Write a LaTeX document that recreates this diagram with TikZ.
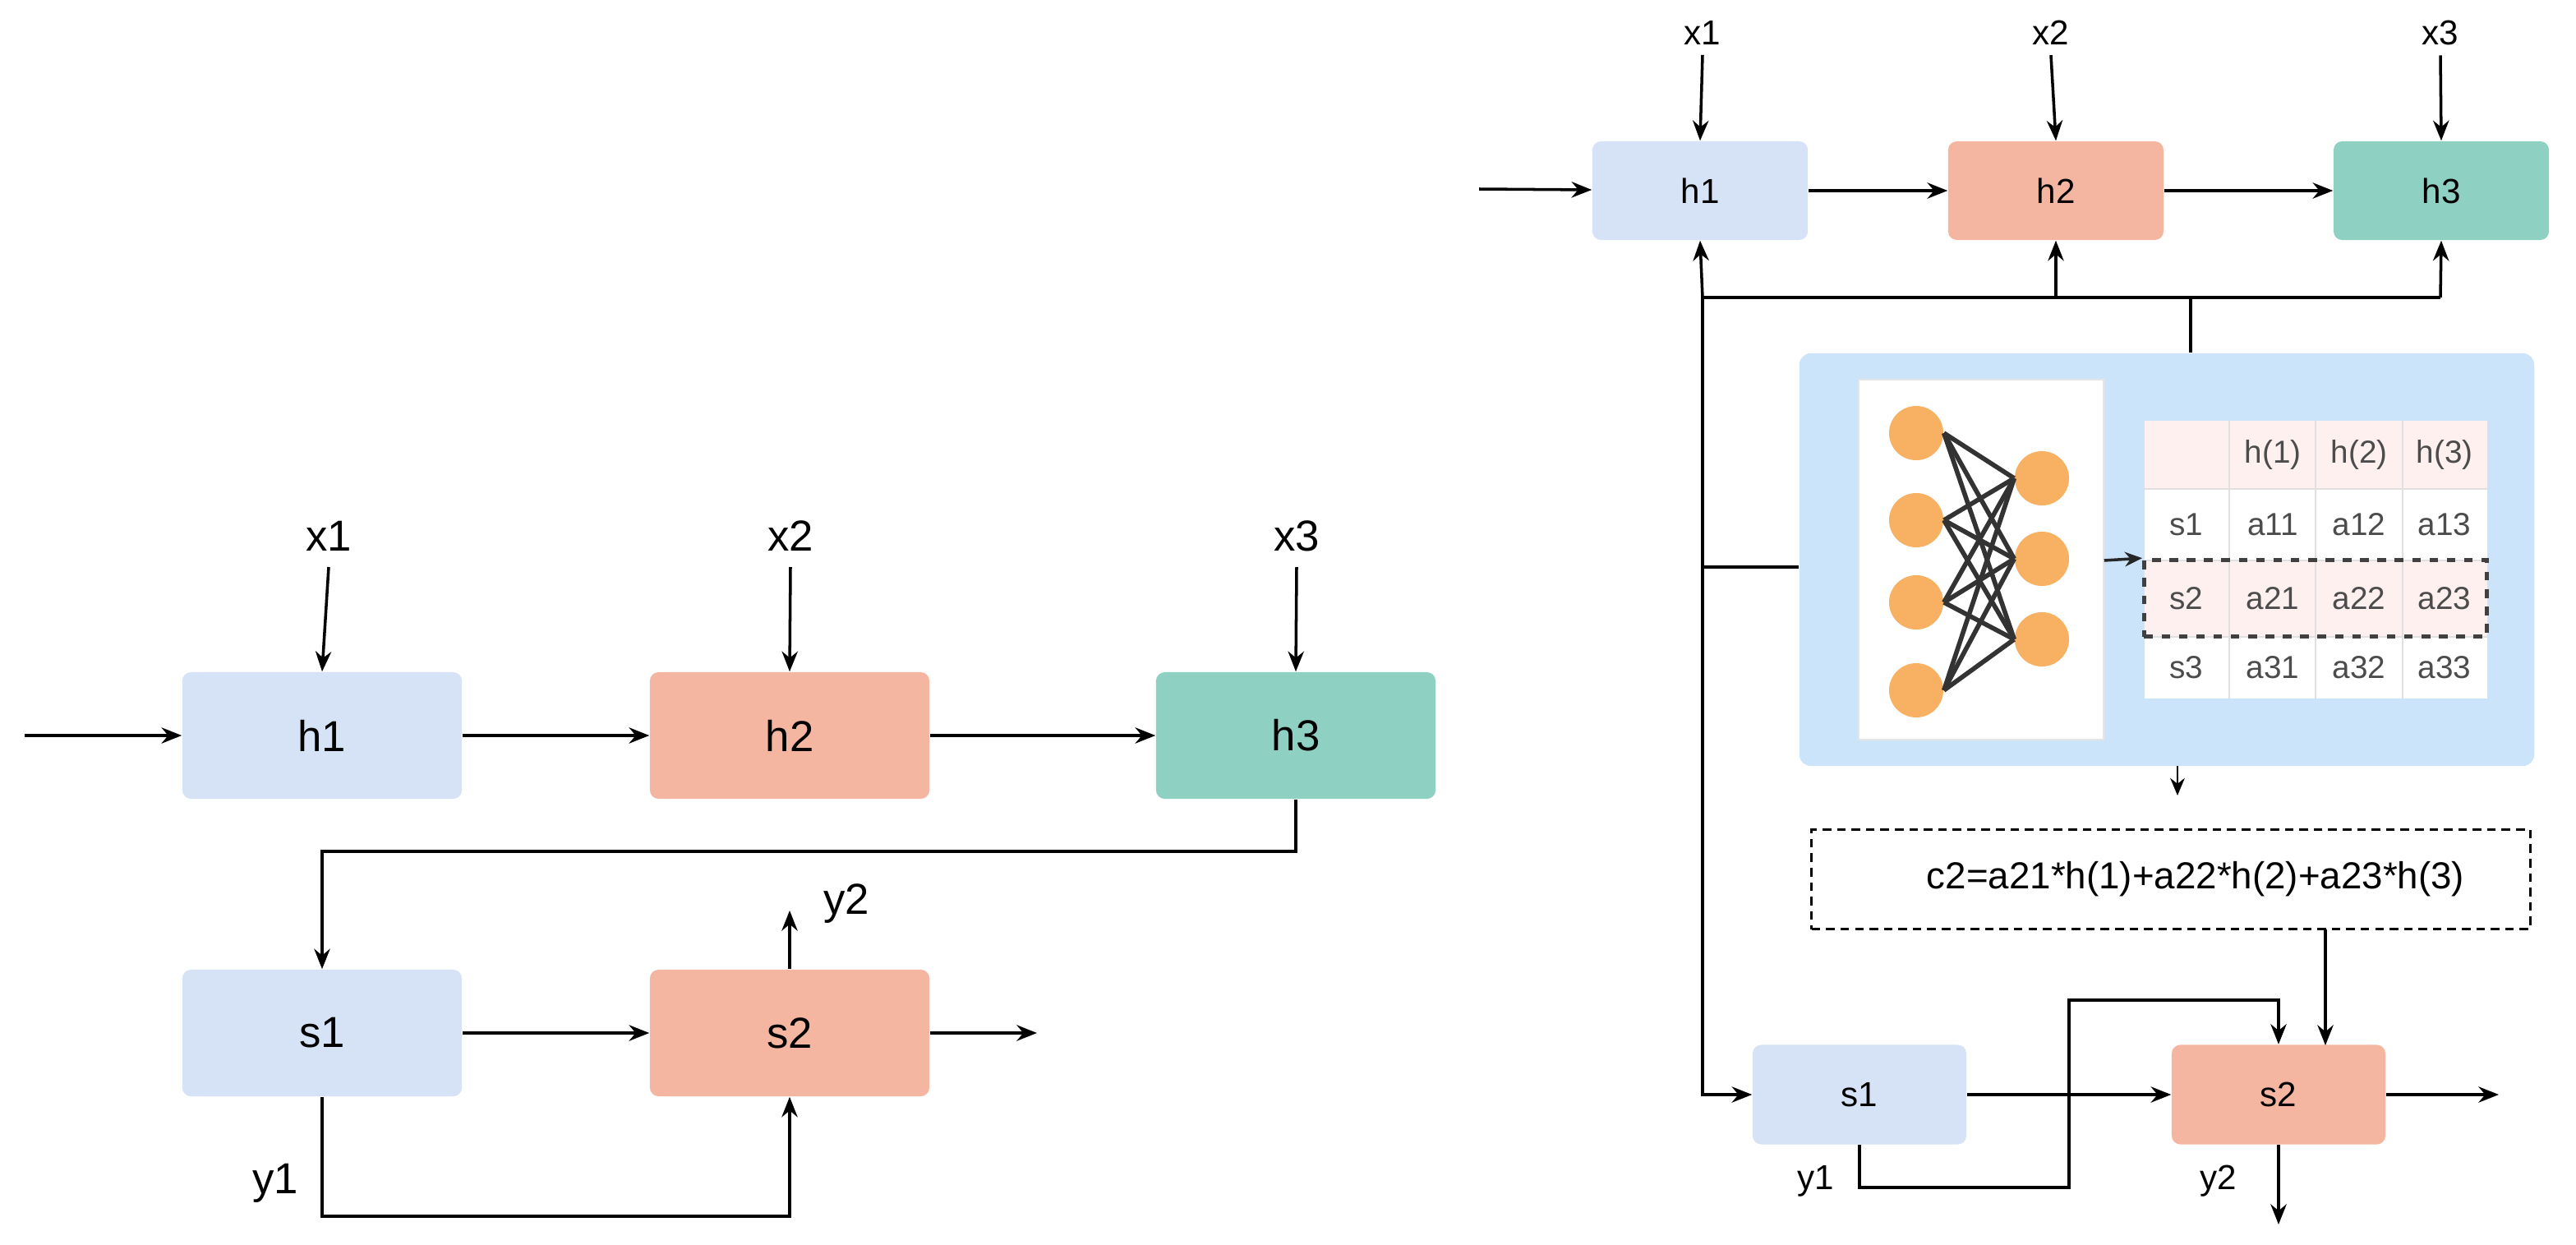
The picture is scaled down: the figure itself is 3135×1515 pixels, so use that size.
\documentclass[tikz,border=0pt]{standalone}
\usepackage{fontspec}
\setmainfont{Liberation Sans}
\usetikzlibrary{arrows.meta}
\definecolor{cb}{HTML}{D6E2F5}
\definecolor{cs}{HTML}{F4B6A0}
\definecolor{ct}{HTML}{8ED1C3}
\definecolor{cbig}{HTML}{CCE4F9}
\definecolor{cor}{HTML}{F8B062}
\definecolor{cpk}{HTML}{FDF0EE}
\begin{document}
\begin{tikzpicture}[x=0.01cm,y=-0.01cm,
  ar/.style={-{Stealth[length=7pt,width=5.5pt]},line width=1pt},
  ln/.style={line width=1pt},
  bigbox/.style={rounded corners=3pt,minimum width=3.4cm,minimum height=1.54cm,font=\fontsize{15}{18}\selectfont},
  smbox/.style={rounded corners=3pt,minimum width=2.62cm,minimum height=1.2cm,font=\fontsize{12}{14}\selectfont},
  lbl/.style={font=\fontsize{15}{18}\selectfont},
  slbl/.style={font=\fontsize{12}{14}\selectfont},
  neu/.style={circle,fill=cor,minimum size=0.66cm,inner sep=0pt},
  tt/.style={font=\fontsize{11}{13}\selectfont,text=black!70},
  ]
\useasboundingbox (0,0) rectangle (3135,1515);
% ---------------- left diagram
\node[bigbox,fill=cb] (h1) at (392,895) {h1};
\node[bigbox,fill=cs] (h2) at (961,895) {h2};
\node[bigbox,fill=ct] (h3) at (1577,895) {h3};
\node[bigbox,fill=cb] (s1) at (392,1257) {s1};
\node[bigbox,fill=cs] (s2) at (961,1257) {s2};
\node[lbl] (x1) at (400,652) {x1};
\node[lbl] (x2) at (962,652) {x2};
\node[lbl] (x3) at (1578,652) {x3};
\node[lbl] (y2) at (1030,1100) {y2};
\node[lbl] (y1) at (335,1440) {y1};
\coordinate (in) at (30,895);
\coordinate (out) at (1262,1257);
\coordinate (y2e) at (961,1108);
\draw[ar] (in) -- (h1);
\draw[ar] (x1.south |- 0,690) -- (h1.north);
\draw[ar] (x2.south |- 0,690) -- (h2.north);
\draw[ar] (x3.south |- 0,690) -- (h3.north);
\draw[ar] (h1) -- (h2);
\draw[ar] (h2) -- (h3);
\draw[ar] (h3.south) -- (1577,1036) -- (392,1036) -- (s1.north);
\draw[ar] (s1) -- (s2);
\draw[ar] (s2) -- (out);
\draw[ar] (s2.north) -- (y2e);
\draw[ar] (s1.south) -- (392,1480) -- (961,1480) -- (s2.south);
% ---------------- right diagram
\node[smbox,fill=cb] (H1) at (2069,232) {h1};
\node[smbox,fill=cs] (H2) at (2502,232) {h2};
\node[smbox,fill=ct] (H3) at (2971,232) {h3};
\node[slbl] (X1) at (2072,40) {x1};
\node[slbl] (X2) at (2496,40) {x2};
\node[slbl] (X3) at (2970,40) {x3};
\coordinate (IN) at (1800,230);
\draw[ar] (IN) -- (H1);
\draw[ar] (X1.south) -- (H1.north);
\draw[ar] (X2.south) -- (H2.north);
\draw[ar] (X3.south) -- (H3.north);
\draw[ar] (H1) -- (H2);
\draw[ar] (H2) -- (H3);
% attention box
\node[fill=cbig,rounded corners=4pt,minimum width=8.94cm,minimum height=5.02cm,inner sep=0pt] (att) at (2637,681) {};
\node[fill=white,draw=black!10,minimum width=2.98cm,minimum height=4.38cm,inner sep=0pt] (pan) at (2411,681) {};
\foreach \i/\y in {1/527,2/633,3/733,4/840} \node[neu] (n\i) at (2332,\y) {};
\foreach \j/\y in {1/582,2/680,3/778} \node[neu] (m\j) at (2485,\y) {};
\foreach \i in {1,...,4}\foreach \j in {1,2,3}
  \draw[line width=1.6pt,black!80] (n\i.east) -- (m\j.west);
% table
\fill[cpk] (2610,512) rectangle (3027,595);
\fill[white] (2610,595) rectangle (3027,850);
\fill[cpk] (2610,682) rectangle (3027,775);
\foreach \x in {2713,2818,2924} \draw[black!12] (\x,512) -- (\x,850);
\foreach \y in {595,682,775} \draw[black!12] (2610,\y) -- (3027,\y);
\node[tt] (c01) at (2766,553) {h(1)};
\node[tt] (c02) at (2871,553) {h(2)};
\node[tt] (c03) at (2975,553) {h(3)};
\node[tt] (r1) at (2661,638) {s1};
\node[tt] (r2) at (2661,728) {s2};
\node[tt] (r3) at (2661,812) {s3};
\node[tt] (a11) at (2766,638) {a11};
\node[tt] (a12) at (2871,638) {a12};
\node[tt] (a13) at (2975,638) {a13};
\node[tt] (a21) at (2766,728) {a21};
\node[tt] (a22) at (2871,728) {a22};
\node[tt] (a23) at (2975,728) {a23};
\node[tt] (a31) at (2766,812) {a31};
\node[tt] (a32) at (2871,812) {a32};
\node[tt] (a33) at (2975,812) {a33};
\node[draw=black!75,dashed,line width=1.3pt,minimum width=4.17cm,minimum height=0.93cm,inner sep=0pt] (sel) at (2818,728) {};
\draw[-{Stealth[length=6pt,width=5pt]},line width=1pt,black!85] (pan.east |- 0,682) -- (sel.north west);
% bus
\coordinate (b1) at (2072,362);
\coordinate (b3) at (2970,362);
\draw[ln] (b1) -- (b3);
\draw[ar] (b1) -- (H1.south);
\draw[ar] (H2.south |- b1) -- (H2.south);
\draw[ar] (b3) -- (H3.south);
\draw[ln] (2666,362) -- (att.north -| 2666,0);
\draw[ln] (2072,690) -- (att.west |- 0,690);
% formula
\node[draw,dashed,line width=0.8pt,dash pattern=on 3pt off 2pt,minimum width=8.74cm,minimum height=1.21cm,font=\fontsize{13}{15}\selectfont] (form) at (2642,1070) {\hspace*{0.6cm}c2=a21*h(1)+a22*h(2)+a23*h(3)};
\draw[-{Stealth[length=6pt,width=5pt]},line width=0.8pt] (2650,932) -- (2650,968);
% bottom
\node[smbox,fill=cb,minimum width=2.6cm,minimum height=1.21cm] (S1) at (2263,1332) {s1};
\node[smbox,fill=cs,minimum width=2.6cm,minimum height=1.21cm] (S2) at (2773,1332) {s2};
\node[slbl] (Y1) at (2210,1437) {y1};
\node[slbl] (Y2) at (2700,1437) {y2};
\coordinate (OUT) at (3041,1332);
\coordinate (Y2e) at (2773,1490);
\draw[ar] (b1) -- (2072,1332) -- (S1.west);
\draw[ar] (S1) -- (S2);
\draw[ar] (S2) -- (OUT);
\draw[ar] (2830,1131) -- (2830,1272);
\draw[ar] (S1.south) -- (2263,1445) -- (2518,1445) -- (2518,1217) -- (2773,1217) -- (S2.north);
\draw[ar] (S2.south) -- (Y2e);
\end{tikzpicture}
\end{document}
